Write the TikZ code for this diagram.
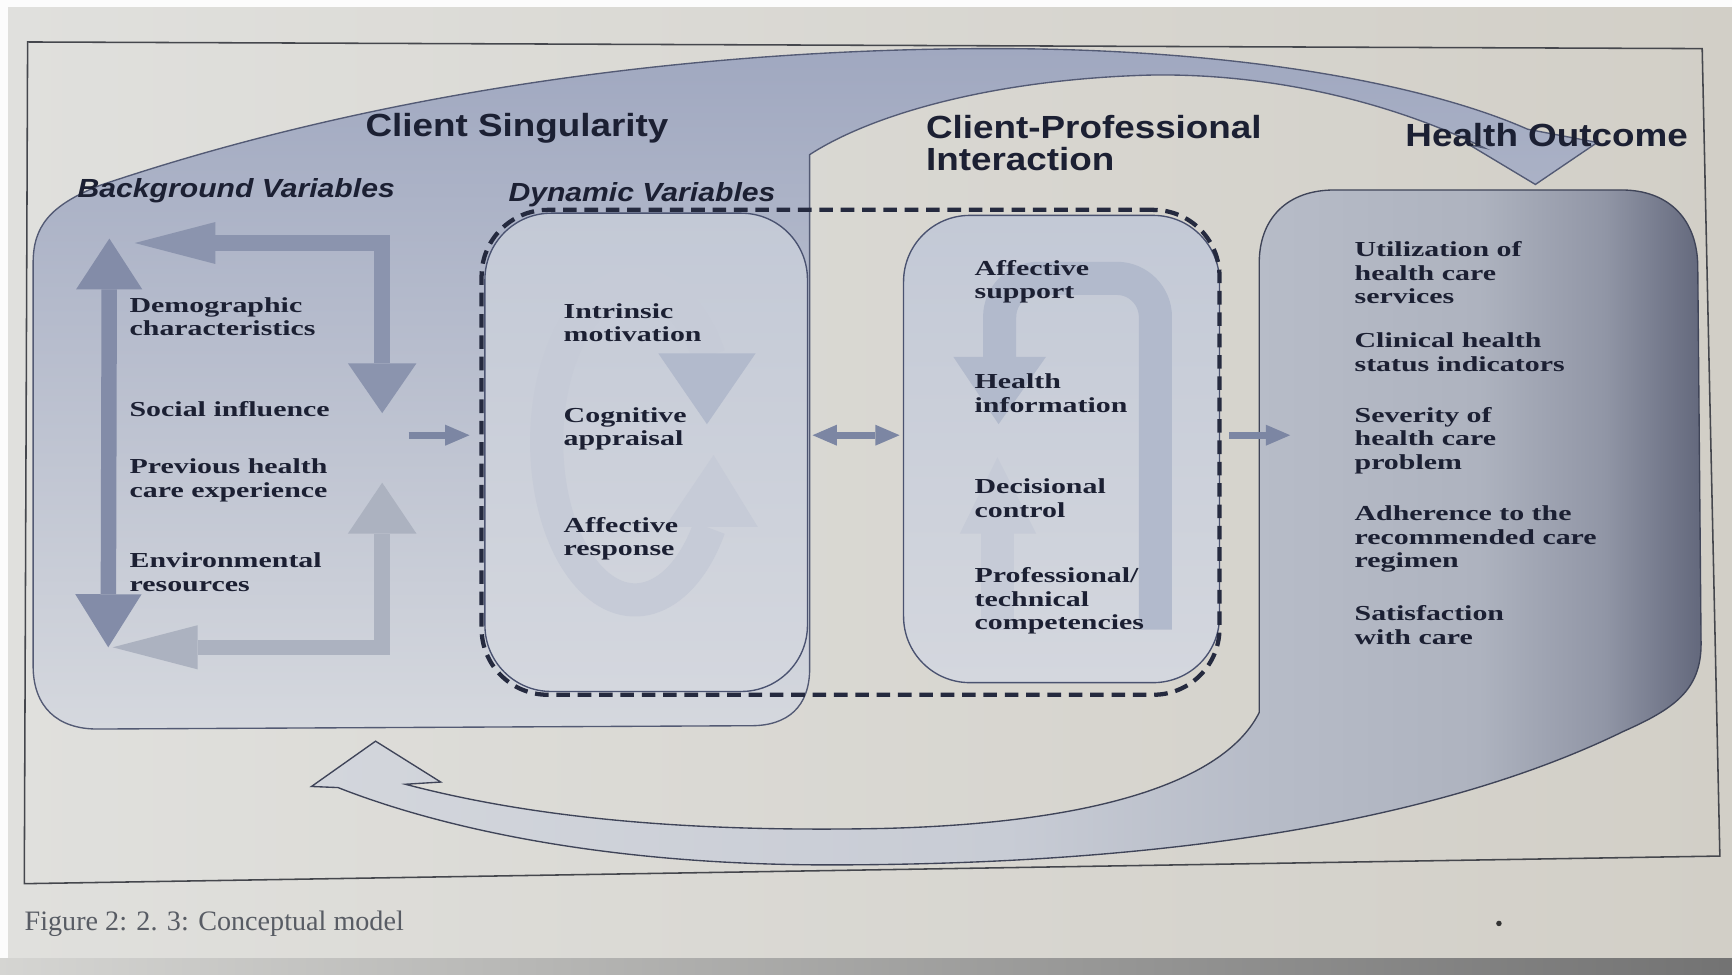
\documentclass[tikz,border=0pt]{standalone}
\usepackage{fontspec}
\setmainfont{Liberation Serif}
\newfontfamily\headfont[FakeStretch=1.15]{Liberation Sans}
\newfontfamily\bodyfont[FakeStretch=1.4]{Liberation Serif}
\usetikzlibrary{arrows.meta}

\definecolor{paperL}{HTML}{E0E0DD}
\definecolor{paperR}{HTML}{D2CFC7}
\definecolor{framecol}{HTML}{45474D}
\definecolor{csTop}{HTML}{A0A8C0}
\definecolor{csBot}{HTML}{D5D8DE}
\definecolor{csEdge}{HTML}{535A74}
\definecolor{hoA}{HTML}{D3D6DC}
\definecolor{hoB}{HTML}{C8CCD5}
\definecolor{hoC}{HTML}{B7BCC8}
\definecolor{hoD}{HTML}{AEB3BF}
\definecolor{hoE}{HTML}{9196A6}
\definecolor{hoF}{HTML}{63687C}
\definecolor{hoEdge}{HTML}{3F4458}
\definecolor{pillTop}{HTML}{C3C9D6}
\definecolor{pillBot}{HTML}{D4D7DE}
\definecolor{pillEdge}{HTML}{4A5270}
\definecolor{bandcol}{HTML}{B2BACC}
\definecolor{bandfaint}{HTML}{C6CBD7}
\definecolor{dashcol}{HTML}{252A3F}
\definecolor{vcol}{HTML}{838CA8}
\definecolor{topcol}{HTML}{8B94AE}
\definecolor{botcol}{HTML}{ACB2C0}
\definecolor{arrcol}{HTML}{7C86A3}
\definecolor{ink}{HTML}{1C2033}
\definecolor{capcol}{HTML}{585C64}

% outcome box: light on the left, darkening towards the right border
\pgfdeclarehorizontalshading{hoshade}{100bp}{color(0bp)=(hoA); color(25bp)=(hoA);
  color(50bp)=(hoB); color(59bp)=(hoC); color(67bp)=(hoD); color(71.5bp)=(hoE);
  color(75bp)=(hoF); color(100bp)=(hoF)}

\begin{document}
\begin{tikzpicture}[x=0.2mm,y=-0.2mm,
  ttl/.style={font=\headfont\bfseries\fontsize{16.5}{16}\selectfont,text=ink,inner sep=0pt,align=left},
  varhead/.style={font=\headfont\bfseries\itshape\fontsize{13.5}{14}\selectfont,text=ink,inner sep=0pt,anchor=west},
  entry/.style={font=\bodyfont\bfseries\fontsize{11}{12}\selectfont,text=ink,inner sep=0pt,anchor=west,align=left},
  pill/.style={draw=pillEdge,line width=0.7pt,rounded corners=12mm,top color=pillTop,bottom color=pillBot},
  band/.style={line width=6mm,draw=bandcol},
  blk/.style={line width=2.8mm},
  link/.style={line width=1.2mm,draw=arrcol}]

\useasboundingbox (0,0) rectangle (1568,882);

% paper
\shade[left color=paperL,right color=paperR] (0,0) rectangle (1568,882);
\fill[white!92!paperL] (0,0) rectangle (1568,6);
\fill[white!92!paperL] (0,0) rectangle (7,882);
\shade[left color=paperL!95!black,right color=black!55] (0,868) rectangle (1568,882);

% frame
\draw[framecol,line width=0.8pt] (25,38) -- (1541,44) -- (1557,775) -- (22,800) -- cycle;

% client singularity, with the arc over the top
\shadedraw[top color=csTop,bottom color=csBot,draw=csEdge,line width=0.7pt]
  (733,140) -- (733,605) .. controls (733,640) and (713,657) .. (680,657)
  -- (88,660) .. controls (52,660) and (30,640) .. (30,603)
  -- (30,238) .. controls (30,205) and (45,186) .. (90,168)
  .. controls (350,80) and (640,44) .. (900,44)
  .. controls (1120,44) and (1290,76) .. (1383,117)
  -- (1446,129) -- (1390,167) -- (1330,131) -- (1344,134)
  .. controls (1250,88) and (1140,66) .. (1040,68)
  .. controls (900,72) and (790,103) .. cycle;

% health outcome, with the return arrow underneath
\shadedraw[shading=hoshade,draw=hoEdge,line width=0.7pt]
  (1140,645) -- (1140,238) .. controls (1140,198) and (1165,172) .. (1208,172)
  -- (1468,172) .. controls (1512,172) and (1537,200) .. (1537,242)
  -- (1540,583) .. controls (1540,625) and (1515,642) .. (1470,662)
  .. controls (1300,745) and (1050,783) .. (750,783)
  .. controls (550,783) and (400,750) .. (306,713)
  -- (282,712) -- (340,671) -- (399,708) -- (367,710)
  .. controls (500,745) and (650,753) .. (800,750)
  .. controls (1000,745) and (1110,705) .. cycle;

% the two pills
\node[pill,minimum width=58.4mm,minimum height=86.6mm] (dyn) at (585,409.5) {};
\node[pill,minimum width=57.2mm,minimum height=84.6mm] (cpi) at (961,406.5) {};

% loop inside the dynamic variables
\draw[band,draw=bandfaint] (642,478) arc[start angle=-33,end angle=-327,x radius=16mm,y radius=28.6mm];
\fill[bandcol] (596,320) -- (684,320) -- (640,384) -- cycle;
\fill[bandfaint] (602,477) -- (686,477) -- (646,412) -- cycle;

% loop inside the interaction
\draw[band,rounded corners=7mm] (905,323) |- (1046,252) -- (1046,570);
\fill[bandcol] (863,323) -- (947,323) -- (904,384) -- cycle;
\draw[band,draw=bandfaint] (903,570) -- (903,482);
\fill[bandfaint] (869,483) -- (938,483) -- (903,414) -- cycle;

% dashed boundary round both pills
\node[draw=dashcol,line width=2.2pt,dash pattern=on 7pt off 4pt,rounded corners=12mm,
  minimum width=133.6mm,minimum height=87.8mm] (bound) at (770,409.5) {};

% background variable arrows
\draw[blk,draw=vcol,{Triangle[width=12mm,length=9.2mm,line width=0pt]}-{Triangle[width=12mm,length=9.6mm,line width=0pt]}]
  (99,216) -- (98,586);
\draw[blk,draw=topcol,{Triangle[width=7.6mm,length=14.6mm,line width=0pt]}-{Triangle[width=12.4mm,length=9mm,line width=0pt]}]
  (122,220) -- (346,220) -- (346,374);
\draw[blk,draw=botcol,{Triangle[width=8mm,length=15.4mm,line width=0pt]}-{Triangle[width=12.4mm,length=9.2mm,line width=0pt]}]
  (102,586) -- (346,586) -- (346,437);

% links between the groups
\coordinate (bgout) at (370,394);
\coordinate (axis) at (0,394);
\coordinate (hoin) at (1168,394);
\draw[link,-{Triangle[width=3.8mm,length=4.4mm,line width=0pt]}] (bgout) -- ([xshift=-1.8mm]axis -| bound.west);
\draw[link,{Triangle[width=3.8mm,length=4.4mm,line width=0pt]}-{Triangle[width=3.8mm,length=4.4mm,line width=0pt]}]
  ([xshift=0.8mm]axis -| dyn.east) -- ([xshift=-0.6mm]axis -| cpi.west);
\draw[link,-{Triangle[width=3.8mm,length=4.4mm,line width=0pt]}] ([xshift=1.6mm]axis -| cpi.east) -- (hoin);

% headings
\node[ttl] (cstitle) at (468,116) {Client Singularity};
\node[ttl,anchor=west] (cptitle) at (838,129.5) {Client-Professional\\Interaction};
\node[ttl,anchor=west] (hotitle) at (1272,122) {Health Outcome};
\node[varhead] (bgvar) at (70,173) {Background Variables};
\node[varhead] (dynvar) at (460,176) {Dynamic Variables};

% background variables
\node[entry] (demo) at (117,287) {Demographic\\characteristics};
\node[entry] (social) at (117,370) {Social influence};
\node[entry] (prev) at (117,435) {Previous health\\care experience};
\node[entry] (env) at (117,518) {Environmental\\resources};

% dynamic variables
\node[entry] (intr) at (510,292) {Intrinsic\\motivation};
\node[entry] (cogn) at (510,388) {Cognitive\\appraisal};
\node[entry] (affr) at (510,488) {Affective\\response};

% interaction
\node[entry] (affs) at (882,255) {Affective\\support};
\node[entry] (hinf) at (882,356) {Health\\information};
\node[entry] (dec) at (882,451) {Decisional\\control};
\node[entry] (comp) at (882,544) {Professional/\\technical\\competencies};

% outcomes
\node[entry] (util) at (1226,247) {Utilization of\\health care\\services};
\node[entry] (clin) at (1226,319) {Clinical health\\status indicators};
\node[entry] (sev) at (1226,399) {Severity of\\health care\\problem};
\node[entry] (adh) at (1226,488) {Adherence to the\\recommended care\\regimen};
\node[entry] (sat) at (1226,566) {Satisfaction\\with care};

% caption
\node[anchor=west,inner sep=0pt,text=capcol,font=\fontsize{14.5}{16}\selectfont] (cap) at (22,836)
  {Figure 2: 2. 3: Conceptual model};
\fill[black!80] (1357,836) circle[radius=0.5mm];
\end{tikzpicture}
\end{document}
